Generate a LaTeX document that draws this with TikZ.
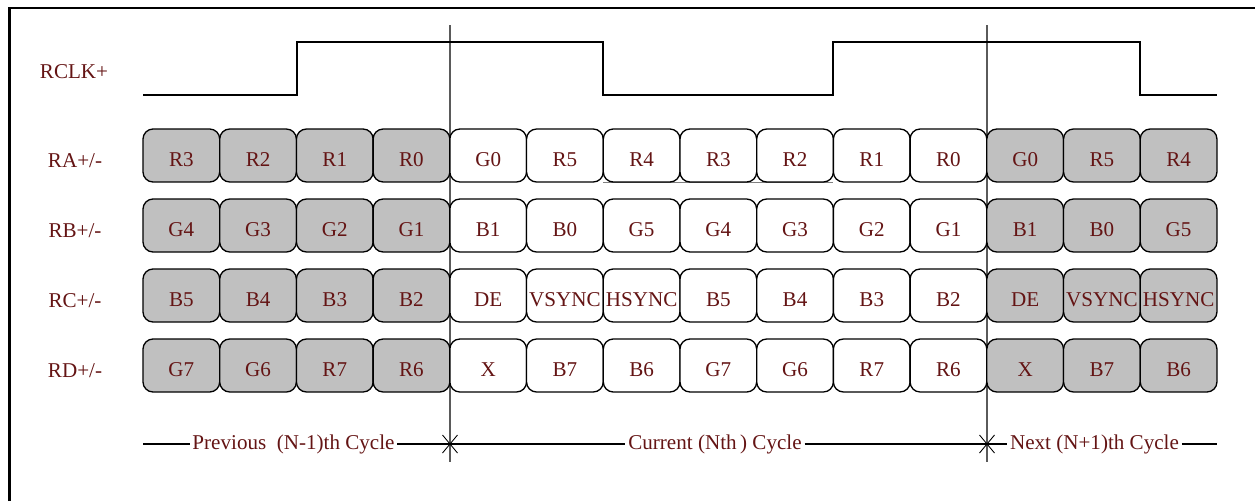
\documentclass[tikz,border=0pt]{standalone}
\usepackage{fontspec}
\setmainfont{Liberation Serif}
\usepackage{xcolor}
\definecolor{sigred}{HTML}{641414}
\definecolor{cellgray}{HTML}{C0C0C0}
\definecolor{divgray}{HTML}{5A5A5A}
\tikzset{
  cell/.style={
    rectangle, rounded corners=0.2cm, draw=black, line width=0.75pt,
    fill=#1, minimum width=1.534cm, minimum height=1.06cm,
    inner sep=0pt, text height=12pt, text depth=0pt,
    font=\large, text=sigred
  },
  sig/.style={font=\large, text=sigred, anchor=base},
  cyc/.style={font=\large, text=sigred, inner xsep=1.5pt, inner ysep=0pt},
  wave/.style={line width=0.6pt}
}

\begin{document}
\begin{tikzpicture}[x=0.02cm, y=-0.02cm]
  \useasboundingbox (0,0) rectangle (1255,501);
  % Frame
  \draw[line width=1.2pt] (9.5,501) -- (9.5,8) -- (1255,8);
  % Cycle borders
  \foreach \x in {450,987}{%
    \draw[divgray, line width=0.6pt] (\x,25) -- (\x,462);
    \draw[line width=0.5pt] (\x-7.5,435) -- (\x+7.5,453)
                            (\x-7.5,453) -- (\x+7.5,435);}
  % RCLK+
  \node[sig] (lclk) at (74,78) {RCLK+};
  \draw[wave] (143,95) -- (297,95) -- (297,42) -- (603,42) -- (603,95)
    -- (833,95) -- (833,42) -- (1140,42) -- (1140,95) -- (1217,95);
  % Lanes
  \node[sig] (lra) at (75,167) {RA+/-};
  \node[sig] (lrb) at (75,237) {RB+/-};
  \node[sig] (lrc) at (75,307) {RC+/-};
  \node[sig] (lrd) at (75,377) {RD+/-};
  \draw[gray, line width=0.6pt] (603,182.5) -- (833,182.5);
  \foreach \row/\yy/\cells in {
      ra/155.5/{R3,R2,R1,R0,G0,R5,R4,R3,R2,R1,R0,G0,R5,R4},
      rb/225.5/{G4,G3,G2,G1,B1,B0,G5,G4,G3,G2,G1,B1,B0,G5},
      rc/295.5/{B5,B4,B3,B2,DE,VSYNC,HSYNC,B5,B4,B3,B2,DE,VSYNC,HSYNC},
      rd/365.5/{G7,G6,R7,R6,X,B7,B6,G7,G6,R7,R6,X,B7,B6}}{%
    \foreach \c [count=\i] in \cells {%
      \ifnum\i<5 \def\cfill{cellgray}\else
        \ifnum\i>11 \def\cfill{cellgray}\else \def\cfill{white}\fi\fi
      \node[cell=\cfill] (\row\i) at ({143+76.71*(\i-0.5)},\yy) {\c};
    }
  }
  % Cycle labels
  \coordinate (cycl) at (143,444);
  \coordinate (cycr) at (1217,444);
  \node[cyc] (prev) at (293.5,444) {Previous\ \ (N-1)th Cycle};
  \node[cyc] (curr) at (715,444) {Current (Nth\,) Cycle};
  \node[cyc] (next) at (1094.5,444) {Next (N+1)th Cycle};
  \draw[line width=0.6pt] (cycl) -- (prev.west) (prev.east) -- (curr.west)
    (curr.east) -- (next.west) (next.east) -- (cycr);
\end{tikzpicture}
\end{document}
